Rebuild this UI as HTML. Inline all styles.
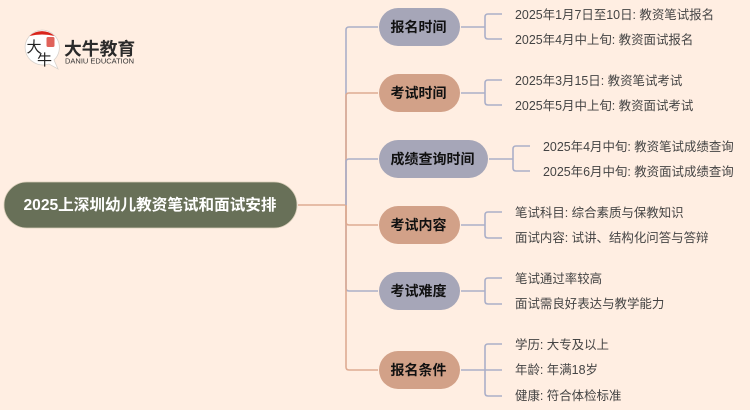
<!DOCTYPE html>
<html lang="zh">
<head>
<meta charset="utf-8">
<style>
html,body{margin:0;padding:0;background:#ffeee2;}
svg{display:block;}
text{font-family:"Liberation Sans","Noto Sans CJK SC",sans-serif;}
.t{font-size:12.450px;fill:#444;}
.b{font-size:14px;font-weight:700;fill:#111;text-anchor:middle;}
.g{fill:none;stroke:#abafc8;stroke-width:1.6;}
.o{fill:none;stroke:#deab92;stroke-width:1.6;}
</style>
</head>
<body>
<svg width="750" height="410" viewBox="0 0 750 410" xmlns="http://www.w3.org/2000/svg">
<rect width="750" height="410" fill="#ffeee2"/>

<!-- trunk connectors -->
<path class="o" d="M298 205H346"/>
<path class="g" d="M378 27H349Q346 27 346 30V205"/>
<path class="o" d="M378 93H349Q346 93 346 96V205"/>
<path class="g" d="M378 159H349Q346 159 346 162V205"/>
<path class="g" d="M378 291H349Q346 291 346 288V205"/>
<path class="o" d="M378 225H349Q346 225 346 222V205"/>
<path class="o" d="M378 370H349Q346 370 346 367V205"/>

<!-- child connectors -->
<path class="g" d="M461 27H485M502 14H488Q485 14 485 17V36Q485 39 488 39H502"/>
<path class="g" d="M461 93H485M502 80H488Q485 80 485 83V102Q485 105 488 105H502"/>
<path class="g" d="M489 159H513M530 146H516Q513 146 513 149V168Q513 171 516 171H530"/>
<path class="g" d="M461 225H485M502 212H488Q485 212 485 215V235Q485 238 488 238H502"/>
<path class="g" d="M461 291H485M502 278H488Q485 278 485 281V301Q485 304 488 304H502"/>
<path class="g" d="M461 370H502M502 344H488Q485 344 485 347V393Q485 396 488 396H502"/>

<!-- root -->
<rect x="4" y="182" width="293" height="46" rx="23" fill="#687058" stroke="#d8cdb8" stroke-width="0.8"/>
<text x="150" y="210" text-anchor="middle" font-size="15.600" font-weight="700" fill="#fff">2025上深圳幼儿教资笔试和面试安排</text>

<!-- branches -->
<rect x="379" y="8" width="81" height="38" rx="19" fill="#a6a6b8"/>
<text class="b" x="418.500" y="32">报名时间</text>
<rect x="379" y="74" width="81" height="38" rx="19" fill="#d2a188"/>
<text class="b" x="418.500" y="98">考试时间</text>
<rect x="379" y="140" width="109" height="38" rx="19" fill="#a6a6b8"/>
<text class="b" x="432.500" y="164">成绩查询时间</text>
<rect x="379" y="206" width="81" height="38" rx="19" fill="#d2a188"/>
<text class="b" x="418.500" y="230">考试内容</text>
<rect x="379" y="272" width="81" height="38" rx="19" fill="#a6a6b8"/>
<text class="b" x="418.500" y="296">考试难度</text>
<rect x="379" y="351" width="81" height="38" rx="19" fill="#d2a188"/>
<text class="b" x="418.500" y="375">报名条件</text>

<!-- leaves -->
<text class="t" x="515" y="19">2025年1月7日至10日: 教资笔试报名</text>
<text class="t" x="515" y="44">2025年4月中上旬: 教资面试报名</text>
<text class="t" x="515" y="85">2025年3月15日: 教资笔试考试</text>
<text class="t" x="515" y="110">2025年5月中上旬: 教资面试考试</text>
<text class="t" x="543" y="151">2025年4月中旬: 教资笔试成绩查询</text>
<text class="t" x="543" y="176">2025年6月中旬: 教资面试成绩查询</text>
<text class="t" x="515" y="217">笔试科目: 综合素质与保教知识</text>
<text class="t" x="515" y="242">面试内容: 试讲、结构化问答与答辩</text>
<text class="t" x="515" y="283">笔试通过率较高</text>
<text class="t" x="515" y="308">面试需良好表达与教学能力</text>
<text class="t" x="515" y="349">学历: 大专及以上</text>
<text class="t" x="515" y="374">年龄: 年满18岁</text>
<text class="t" x="515" y="400">健康: 符合体检标准</text>

<!-- logo -->
<path d="M42 30A18 17.500 0 1 0 49 64L58 69L54 60A18 17.500 0 0 0 42 30Z" fill="#fff" stroke="#d8d2cc" stroke-width="0.8"/>
<path d="M29.500 36A18 17.500 0 0 1 54.500 36Q42 33 29.500 36Z" fill="#d9251c"/>
<rect x="46.500" y="37" width="8" height="10" rx="1.500" fill="#e0625a"/>
<text x="26.500" y="52" font-size="15" fill="#222">大</text>
<text x="37" y="65" font-size="15" fill="#222">牛</text>
<text x="64" y="55" font-size="17.800" font-weight="700" fill="#2b2b2b">大牛教育</text>
<text x="65" y="63.500" font-size="7.500" fill="#333" textLength="69" lengthAdjust="spacingAndGlyphs">DANIU EDUCATION</text>
</svg>
</body>
</html>
